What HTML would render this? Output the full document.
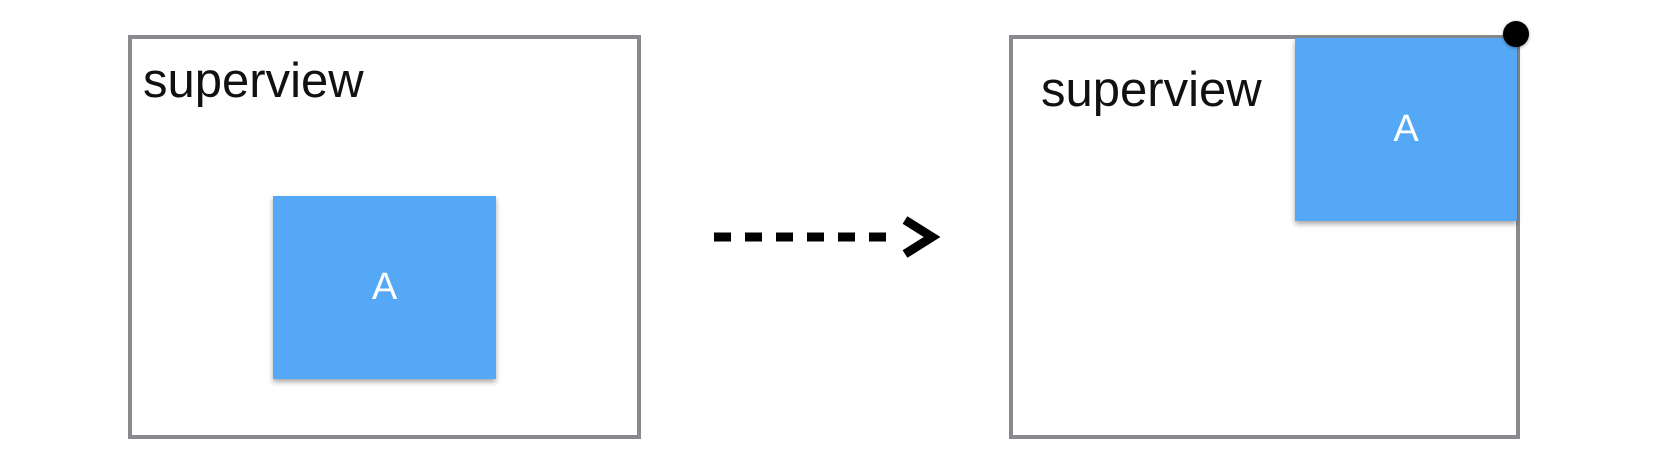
<!DOCTYPE html>
<html><head><style>
html,body{margin:0;padding:0;background:#fff;}
body{width:1670px;height:468px;position:relative;overflow:hidden;font-family:"Liberation Sans",sans-serif;}
.box{position:absolute;border:4px solid #8a8a8e;box-sizing:border-box;background:#fff;}
.lbl{position:absolute;font-size:49px;color:#111;line-height:1;}
.blue{position:absolute;background:#55a8f6;box-shadow:0 3px 5px rgba(0,0,0,0.35);color:#fff;font-size:38px;display:flex;align-items:center;justify-content:center;}
</style></head><body>
<div class="box" style="left:128px;top:35px;width:513px;height:404px;"></div>
<div class="lbl" style="left:143px;top:57px;">superview</div>
<div class="blue" style="left:273px;top:196px;width:223px;height:183px;">A</div>

<svg style="position:absolute;left:0;top:0" width="1670" height="468">
<line x1="714" y1="237" x2="900" y2="237" stroke="#000" stroke-width="9" stroke-dasharray="17 14"/>
<polyline points="905,220 932,237 905,254" fill="none" stroke="#000" stroke-width="9"/>
</svg>

<div class="box" style="left:1009px;top:35px;width:511px;height:404px;"></div>
<div class="lbl" style="left:1041px;top:66px;">superview</div>
<div class="blue" style="left:1295px;top:38px;width:222px;height:183px;">A</div>
<div style="position:absolute;left:1503px;top:21px;width:26px;height:26px;border-radius:50%;background:#000;box-shadow:0 1px 3px rgba(0,0,0,0.4);"></div>
</body></html>
